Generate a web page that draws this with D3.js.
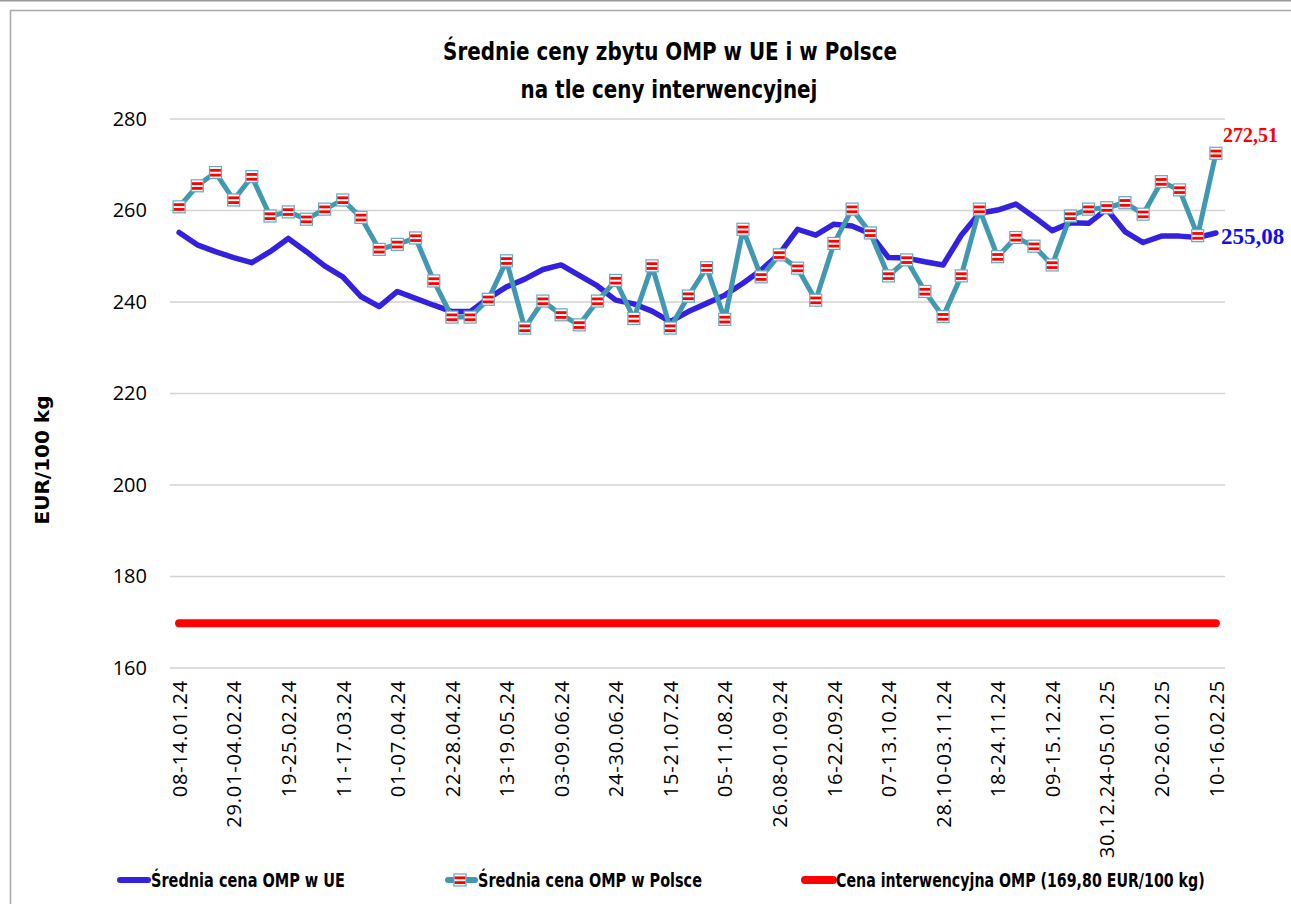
<!DOCTYPE html>
<html>
<head>
<meta charset="utf-8">
<script src="https://cdn.jsdelivr.net/npm/d3@7"></script>
<style>
  body { margin: 0; background: #fff; }
  svg { display: block; }
</style>
</head>
<body>
<svg id="chart" width="1291" height="904"></svg>
<script>
// weeks (Mon-Sun)
var weeks = ["08-14.01.24","15-21.01.24","22-28.01.24","29.01-04.02.24","05-11.02.24","12-18.02.24",
  "19-25.02.24","26.02-03.03.24","04-10.03.24","11-17.03.24","18-24.03.24","25-31.03.24",
  "01-07.04.24","08-14.04.24","15-21.04.24","22-28.04.24","29.04-05.05.24","06-12.05.24",
  "13-19.05.24","20-26.05.24","27.05-02.06.24","03-09.06.24","10-16.06.24","17-23.06.24",
  "24-30.06.24","01-07.07.24","08-14.07.24","15-21.07.24","22-28.07.24","29.07-04.08.24",
  "05-11.08.24","12-18.08.24","19-25.08.24","26.08-01.09.24","02-08.09.24","09-15.09.24",
  "16-22.09.24","23-29.09.24","30.09-06.10.24","07-13.10.24","14-20.10.24","21-27.10.24",
  "28.10-03.11.24","04-10.11.24","11-17.11.24","18-24.11.24","25.11-01.12.24","02-08.12.24",
  "09-15.12.24","16-22.12.24","23-29.12.24","30.12.24-05.01.25","06-12.01.25","13-19.01.25",
  "20-26.01.25","27.01-02.02.25","03-09.02.25","10-16.02.25"];

// EUR/100 kg
var euPrice = [255.2,252.5,251.0,249.7,248.6,251.0,253.9,251.0,247.9,245.5,241.2,239.0,
  242.3,240.8,239.3,237.9,237.9,240.8,243.3,245.0,247.1,248.1,245.8,243.5,
  240.4,239.6,238.0,235.7,237.9,239.7,241.5,244.1,247.0,250.5,255.9,254.6,
  257.0,256.6,254.9,249.7,249.6,248.8,248.1,254.6,259.4,260.1,261.4,258.6,
  255.6,257.3,257.2,260.3,255.4,253.0,254.4,254.4,254.1,255.08];

var plPrice = [260.8,265.4,268.3,262.3,267.4,258.8,259.7,258.1,260.3,262.3,258.5,251.5,
  252.6,254.0,244.6,236.7,236.7,240.6,249.0,234.3,240.2,237.2,235.0,240.2,
  244.7,236.4,247.9,234.3,241.3,247.5,236.2,255.9,245.5,250.3,247.4,240.4,
  252.8,260.3,255.1,245.7,249.2,242.3,236.8,245.7,260.3,249.9,254.1,252.2,
  248.1,258.8,260.3,260.6,261.7,259.2,266.3,264.5,254.5,272.51];

var interventionPrice = 169.80;
var yTicks = [160,180,200,220,240,260,280];
var seriesNames = ["Średnia cena OMP w UE", "Średnia cena OMP w Polsce",
  "Cena interwencyjna OMP (169,80 EUR/100 kg)"];

var blue = "#3421e0", teal = "#4198b0", red = "#ff0000";
var narrow = "'DejaVu Sans Condensed', 'Liberation Sans Narrow', sans-serif";

var svg = d3.select("#chart");
var margin = {top: 119, right: 66, bottom: 236, left: 170};
var W = +svg.attr("width"), H = +svg.attr("height");

// frame
svg.append("line").attr("x1", 0).attr("x2", W).attr("y1", 0.5).attr("y2", 0.5)
  .attr("stroke", "#9a9a9a").attr("stroke-width", 2);
svg.append("path").attr("d", "M10.5," + H + "V10.5H" + W)
  .attr("fill", "none").attr("stroke", "#a8a8a8").attr("stroke-width", 1.5);

var x = d3.scalePoint()
  .domain(weeks)
  .range([margin.left, W - margin.right])
  .padding(0.5);

var y = d3.scaleLinear()
  .domain([160, 280])
  .range([H - margin.bottom, margin.top]);

// grid
svg.append("g")
  .selectAll("line")
  .data(yTicks)
  .join("line")
    .attr("x1", margin.left).attr("x2", W - margin.right)
    .attr("y1", d => y(d)).attr("y2", d => y(d))
    .attr("stroke", "#d2d2d2").attr("stroke-width", 1.5);

var yAxis = svg.append("g")
  .attr("transform", "translate(" + (margin.left - 23) + ",0)")
  .call(d3.axisLeft(y).tickValues(yTicks).tickSize(0).tickPadding(0));
yAxis.select(".domain").remove();
yAxis.selectAll("text")
  .style("font-family", "'Open Sans', sans-serif")
  .style("font-size", "20px")
  .attr("fill", "#000");

var xAxis = svg.append("g")
  .attr("transform", "translate(0," + y(160) + ")")
  .call(d3.axisBottom(x).tickValues(weeks.filter((d, i) => i % 3 == 0)).tickSize(0));
xAxis.select(".domain").remove();
xAxis.selectAll("text")
  .style("font-family", "'Open Sans', sans-serif")
  .style("font-size", "20px")
  .style("letter-spacing", "0.8px")
  .attr("fill", "#000")
  .style("text-anchor", "end")
  .attr("y", 0)
  .attr("dx", "-12px")
  .attr("dy", "0.36em")
  .attr("transform", "rotate(-90)");

// intervention price
svg.append("line")
  .attr("x1", x(weeks[0])).attr("x2", x(weeks[weeks.length - 1]))
  .attr("y1", y(interventionPrice)).attr("y2", y(interventionPrice))
  .attr("stroke", red).attr("stroke-width", 8).attr("stroke-linecap", "round");

var line = d3.line()
  .x((d, i) => x(weeks[i]))
  .y(d => y(d));

svg.append("path").datum(euPrice)
  .attr("fill", "none").attr("stroke", blue).attr("stroke-width", 5.5)
  .attr("stroke-linejoin", "round").attr("stroke-linecap", "round")
  .attr("d", line);

svg.append("path").datum(plPrice)
  .attr("fill", "none").attr("stroke", teal).attr("stroke-width", 5)
  .attr("stroke-linejoin", "round")
  .attr("d", line);

function marker(g) {
  g.append("rect").attr("x", -6).attr("y", -6).attr("width", 12).attr("height", 12)
    .attr("fill", "#fff").attr("stroke", "#62a9bf").attr("stroke-width", 1.2);
  g.append("rect").attr("x", -5.4).attr("y", -3.6).attr("width", 10.8).attr("height", 2.8).attr("fill", red);
  g.append("rect").attr("x", -5.4).attr("y", 1.2).attr("width", 10.8).attr("height", 2.8).attr("fill", red);
}

svg.append("g")
  .selectAll("g")
  .data(plPrice)
  .join("g")
    .attr("transform", (d, i) => "translate(" + x(weeks[i]) + "," + y(d) + ")")
    .each(function() { marker(d3.select(this)); });

// end labels
var last = weeks.length - 1;
svg.append("text")
  .attr("x", x(weeks[last]) + 7).attr("y", y(plPrice[last]) - 11)
  .attr("fill", red)
  .style("font-family", "'Liberation Serif', serif")
  .style("font-weight", "bold").style("font-size", "20px")
  .text(d3.format(".2f")(plPrice[last]).replace(".", ","));
svg.append("text")
  .attr("x", x(weeks[last]) + 5).attr("y", y(euPrice[last]) + 11)
  .attr("fill", "#1010ee")
  .style("font-family", "'Liberation Serif', serif")
  .style("font-weight", "bold").style("font-size", "23px")
  .text(d3.format(".2f")(euPrice[last]).replace(".", ","));

// narrow text: squeeze horizontally to a given width
function squeezed(g, str, cx, cy, width, size, anchor) {
  var t = g.append("text")
    .style("font-family", narrow)
    .style("font-weight", "bold").style("font-size", size + "px")
    .attr("text-anchor", anchor)
    .text(str);
  var k = width / t.node().getComputedTextLength();
  t.attr("transform", "translate(" + cx + "," + cy + ") scale(" + k + ",1)");
  return t;
}

// title
squeezed(svg, "Średnie ceny zbytu OMP w UE i w Polsce", 670, 60, 454, 25, "middle");
squeezed(svg, "na tle ceny interwencyjnej", 669, 98, 297, 25, "middle");

// y label
svg.append("text")
  .attr("transform", "translate(49,460) rotate(-90)")
  .attr("text-anchor", "middle")
  .style("font-family", "'DejaVu Sans', sans-serif")
  .style("font-weight", "bold").style("font-size", "20px")
  .text("EUR/100 kg");

// legend
var legendY = 880;
var legend = [
  {x: 117, w: 34, color: blue, sw: 6, mark: false, len: 194},
  {x: 445, w: 33, color: teal, sw: 6, mark: true, len: 224},
  {x: 802, w: 34, color: red, sw: 8, mark: false, len: 369}
];
legend.forEach(function(l, i) {
  svg.append("line")
    .attr("x1", l.x + 3).attr("x2", l.x + l.w - 3)
    .attr("y1", legendY).attr("y2", legendY)
    .attr("stroke", l.color).attr("stroke-width", l.sw).attr("stroke-linecap", "round");
  if (l.mark) marker(svg.append("g").attr("transform", "translate(" + (l.x + 15) + "," + legendY + ")"));
  squeezed(svg, seriesNames[i], l.x + l.w, legendY + 7, l.len, 20, "start");
});
</script>
</body>
</html>
